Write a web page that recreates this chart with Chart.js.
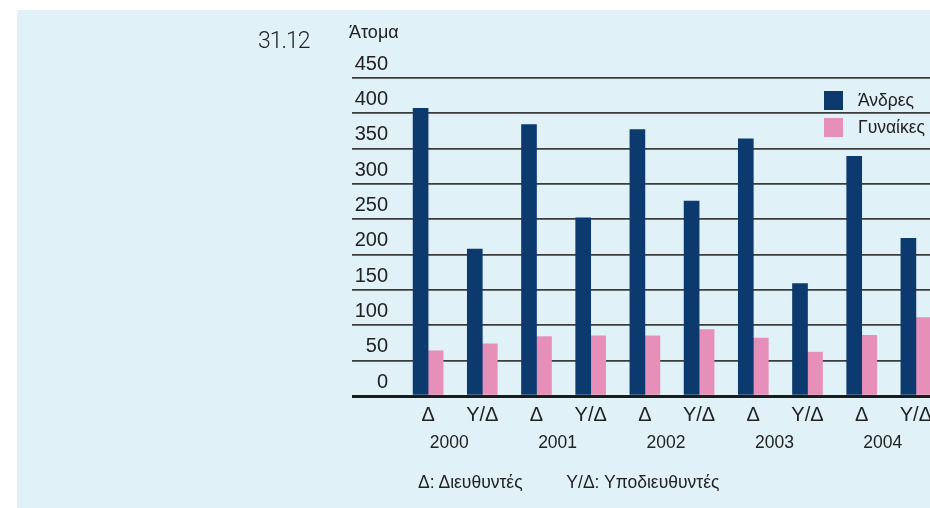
<!DOCTYPE html>
<html>
<head>
<meta charset="utf-8">
<script src="https://cdn.jsdelivr.net/npm/chart.js@4/dist/chart.umd.min.js"></script>
<style>
  html, body { margin: 0; padding: 0; background: #fff; overflow: hidden; }
  body { width: 930px; height: 508px; position: relative; font-family: "Liberation Sans", Arial, sans-serif; color: #222; }
  #panel { position: absolute; left: 17px; top: 10px; width: 913px; height: 498px; background: #e0f1f8; }
  #wrap { position: absolute; left: 0; top: 0; width: 950px; height: 508px; }
  .txt { position: absolute; white-space: nowrap; }
  #date { left: 258px; top: 27px; font-family: Roboto, sans-serif; font-weight: 300; font-size: 23px; letter-spacing: -1px; }
  #unit { left: 349px; top: 22px; font-size: 18px; }
  #note { left: 418px; top: 472px; font-size: 17.5px; }
  .sw { position: absolute; left: 824px; width: 19px; height: 19px; }
  .lg { left: 858px; font-size: 17.5px; }
</style>
</head>
<body>
<div id="panel"></div>
<div id="wrap"><canvas id="c" width="950" height="508"></canvas></div>
<div class="txt" id="date">31.12</div>
<div class="txt" id="unit">Άτομα</div>
<div class="sw" style="top:91px;background:#0d3a6e"></div>
<div class="txt lg" style="top:90px">Άνδρες</div>
<div class="sw" style="top:118px;background:#e58fb9"></div>
<div class="txt lg" style="top:117px">Γυναίκες</div>
<div class="txt" id="note">Δ: Διευθυντές&nbsp;&nbsp;&nbsp;&nbsp;&nbsp;&nbsp;&nbsp;&nbsp;&nbsp;Υ/Δ: Υποδιευθυντές</div>
<script>
const positions = ["Δ", "Υ/Δ", "Δ", "Υ/Δ", "Δ", "Υ/Δ", "Δ", "Υ/Δ", "Δ", "Υ/Δ"];
const years = ["2000", "2001", "2002", "2003", "2004"];
const men = [407, 208, 384, 252, 377, 276, 364, 159, 339, 223];
const women = [64, 74, 84, 85, 85, 94, 82, 62, 86, 111];

const navy = "#0d3a6e";
const pink = "#e58fb9";

const ctx = document.getElementById("c").getContext("2d");
const chart = new Chart(ctx, {
    type: "bar",
    data: {
        labels: positions,
        datasets: [
            { label: "Άνδρες", data: men, backgroundColor: navy, barThickness: 15 },
            { label: "Γυναίκες", data: women, backgroundColor: pink, barThickness: 15 },
        ],
    },
    options: {
        responsive: false,
        animation: false,
        layout: { padding: { left: 340, top: 78, right: 7, bottom: 58 } },
        plugins: { legend: { display: false }, tooltip: { enabled: false } },
        scales: {
            x: {
                weight: 0,
                grid: { display: false, drawTicks: false },
                border: { display: false },
                ticks: { color: "#222", padding: 7, font: { family: "Liberation Sans", size: 20 } },
                afterFit: (scale) => { scale.height = 27; },
            },
            x2: {
                type: "category",
                labels: years,
                position: "bottom",
                weight: 1,
                offset: true,
                grid: { display: false, drawTicks: false },
                border: { display: false },
                ticks: { color: "#222", padding: 10, labelOffset: -6, font: { family: "Liberation Sans", size: 17.5 } },
                afterFit: (scale) => { scale.height = 27; },
            },
            y: {
                min: 0,
                max: 450,
                ticks: {
                    stepSize: 50,
                    color: "#222",
                    padding: -36,
                    labelOffset: -14,
                    font: { family: "Liberation Sans", size: 20 },
                },
                border: { display: false },
                grid: {
                    tickLength: 49,
                    color: (c) => (c.tick && c.tick.value === 0 ? "#1c1c1c" : "#3c3c3c"),
                    lineWidth: (c) => (c.tick && c.tick.value === 0 ? 3 : 1.7),
                },
                afterFit: (scale) => { scale.width = 61; },
            },
        },
    },
});
</script>
</body>
</html>
